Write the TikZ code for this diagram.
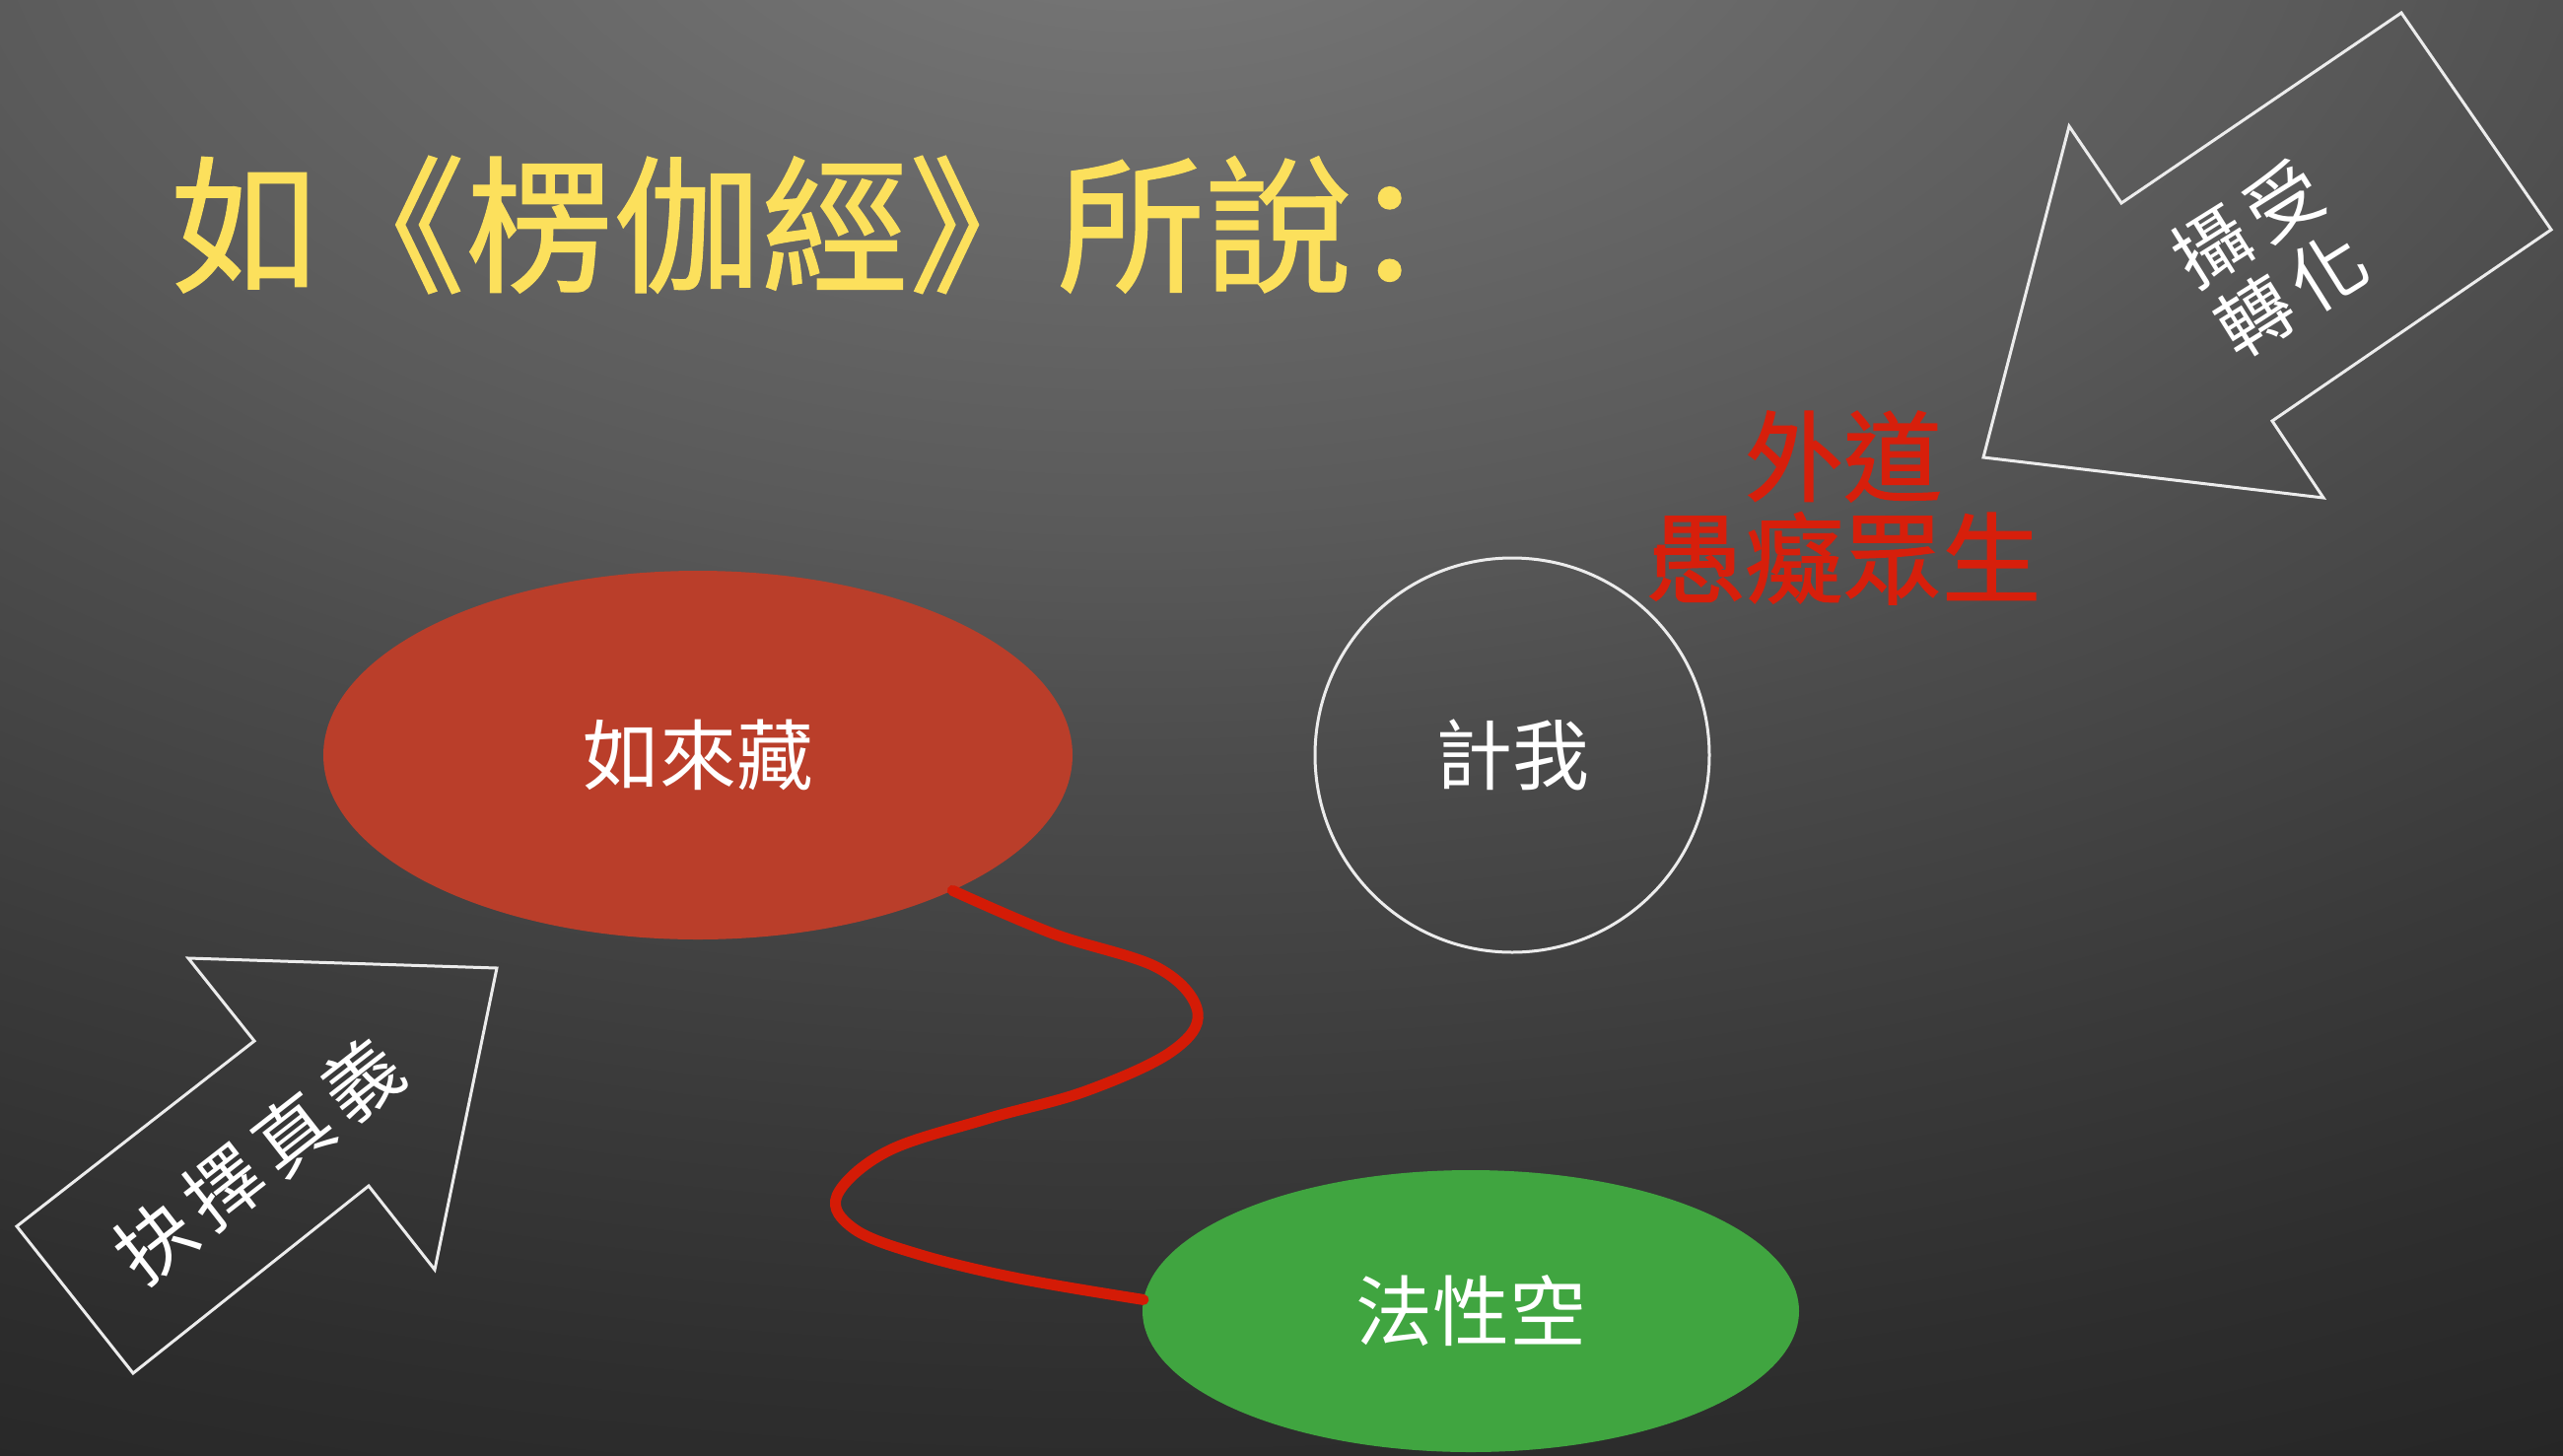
\documentclass[tikz,border=0pt]{standalone}
\usepackage{fontspec}
\usetikzlibrary{shapes.geometric}
\newfontfamily\tcfont{Noto Sans CJK TC}
\newfontfamily\tcmed[FakeBold=1.3]{Noto Sans CJK TC}
\newfontfamily\tcspaced[LetterSpace=14]{Noto Sans CJK TC}
\newfontfamily\scfont[FakeBold=0.8]{Noto Sans CJK SC}
\definecolor{bgA}{RGB}{122,122,122}
\definecolor{bgB}{RGB}{90,90,90}
\definecolor{bgC}{RGB}{76,76,76}
\definecolor{bgD}{RGB}{58,58,58}
\definecolor{bgE}{RGB}{46,46,46}
\definecolor{bgF}{RGB}{37,37,37}
\definecolor{titleyellow}{RGB}{252,224,92}
\definecolor{ellred}{RGB}{186,62,42}
\definecolor{ellgreen}{RGB}{64,165,64}
\definecolor{textred}{RGB}{215,31,11}
\definecolor{curvered}{RGB}{212,27,6}
\definecolor{lineWhite}{RGB}{236,236,236}
\pgfdeclareradialshading{bgshade}{\pgfpoint{0bp}{0bp}}{color(0bp)=(bgA); color(9.25bp)=(bgB); color(12.5bp)=(bgC); color(17.5bp)=(bgD); color(21.25bp)=(bgE); color(25bp)=(bgF); color(50bp)=(bgF)}
\tikzset{
  arrowline/.style={draw=lineWhite, line width=3pt, line join=miter},
  titletext/.style={inner sep=0pt, text=titleyellow, font=\scfont\fontsize{150}{160}\selectfont},
  redtext/.style={inner sep=0pt, text=textred, align=center, font=\tcmed\fontsize{100}{103}\selectfont},
  label/.style={text=white, font=\tcfont\fontsize{78}{84}\selectfont},
  arrowtext/.style={inner sep=0pt, text=white, align=center},
  redell/.style={ellipse, fill=ellred, inner sep=0pt, minimum width=760pt, minimum height=374pt},
  greenell/.style={ellipse, fill=ellgreen, inner sep=0pt, minimum width=666pt, minimum height=286pt},
  ring/.style={circle, draw=lineWhite, line width=3pt, inner sep=0pt, minimum size=400pt},
  redcurve/.style={draw=curvered, line width=11pt, line cap=round}
}
\begin{document}
\begin{tikzpicture}[x=1pt, y=-1pt]
\useasboundingbox (0,0) rectangle (2600,1476);
\begin{scope}
  \clip (0,0) rectangle (2600,1476);
  \fill[bgF] (0,0) rectangle (2600,1476);
  \shade[shading=bgshade] (1150,-150) ellipse [x radius=3300, y radius=1850];
\end{scope}

% title
\node[titletext, anchor=west] (title) at (172,228) {如《楞伽經》所說：};

% arrows
\draw[arrowline] (2436,13) -- (2588,233) -- (2305,427) -- (2357,505) -- (2012,464) -- (2099,128) -- (2152,206) -- cycle;
\node[arrowtext, rotate=32, font=\tcspaced\fontsize{76}{84}\selectfont] (shehua) at (2302,262) {攝受\\轉化};

\draw[arrowline] (191,972) -- (504,982) -- (441,1288) -- (374,1203) -- (135,1393) -- (17,1244) -- (258,1056) -- cycle;
\node[arrowtext, rotate=38, font=\tcspaced\fontsize{78}{80}\selectfont] (jueze) at (262,1177) {抉擇真義};

% red text
\node[redtext] (waidao) at (1870,515) {外道\\愚癡眾生};

% nodes
\node[redell, label] (rulai) at (708,766) {如來藏};
\node[ring, label] (jiwo) at (1534,766) {計我};
\node[greenell, label] (faxing) at (1492,1330) {法性空};

% red wavy connector
\draw[redcurve] plot[smooth, tension=0.6] coordinates {(rulai.-28) (1068,947) (1175,982) (1215,1027) (1188,1067) (1101,1107) (1001,1135) (900,1168) (849,1213) (867,1247) (934,1273) (1034,1297) (faxing.178)};
\end{tikzpicture}
\end{document}
